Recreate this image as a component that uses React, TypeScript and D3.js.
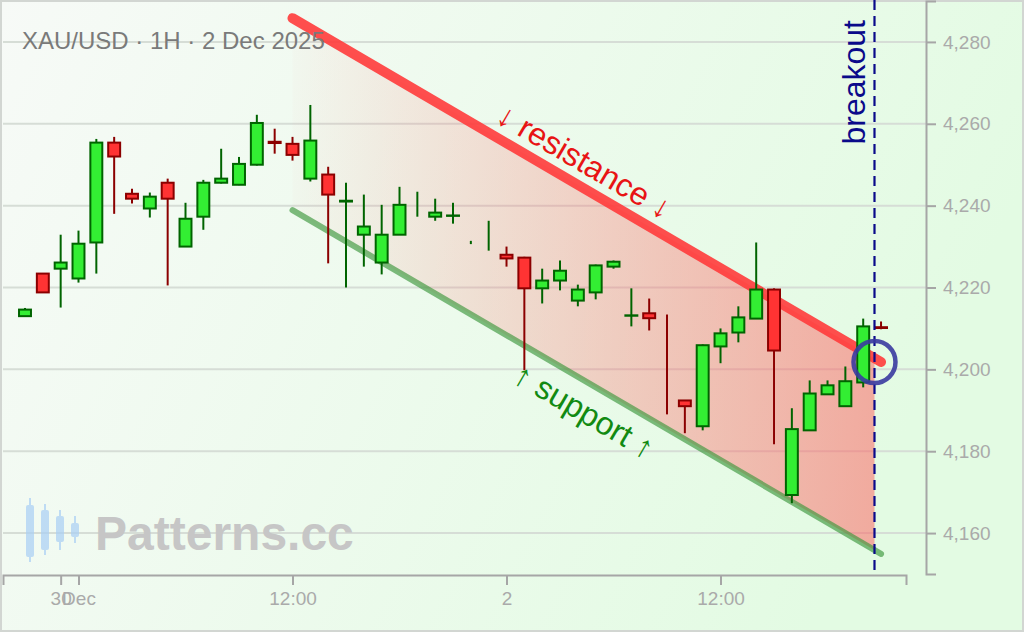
import React, { useEffect, useRef } from "react";
import * as d3 from "d3";

// first candle: 30 Nov 2025 21:00, hourly bars
const START = new Date(2025, 10, 30, 21, 0);

const opens = [
  4213.0, 4223.4, 4224.6, 4222.2, 4231.0, 4255.4, 4242.9, 4239.3, 4245.6, 4230.0,
  4237.3, 4245.6, 4245.1, 4250.0, 4255.6, 4255.1, 4246.6, 4247.6, 4241.0, 4232.9,
  4226.1, 4232.9, 4240.0, 4237.3, 4237.5, 4231.0, 4235.0, 4228.0, 4227.3, 4219.8,
  4221.7, 4216.8, 4218.8, 4225.1, 4213.1, 4213.7, 4213.02, 4192.4, 4186.1, 4205.6,
  4209.0, 4212.4, 4219.5, 4169.3, 4185.1, 4193.9, 4191.0, 4196.8, 4210.3,
];
const highs = [
  4215.0, 4223.5, 4232.9, 4233.9, 4256.3, 4256.8, 4244.1, 4243.2, 4246.6, 4240.7,
  4246.3, 4253.9, 4251.9, 4262.2, 4258.8, 4256.8, 4264.6, 4249.5, 4245.6, 4242.7,
  4240.2, 4244.6, 4243.4, 4241.7, 4240.7, 4231.4, 4236.3, 4230.0, 4227.5, 4224.6,
  4226.6, 4220.7, 4225.6, 4226.6, 4219.8, 4217.3, 4213.4, 4192.4, 4206.1, 4210.0,
  4215.4, 4231.0, 4219.8, 4190.5, 4197.3, 4197.3, 4200.7, 4212.4, 4211.7,
];
const lows = [
  4212.8, 4218.7, 4215.1, 4221.2, 4223.4, 4238.0, 4240.5, 4237.1, 4220.5, 4230.0,
  4234.1, 4245.4, 4245.0, 4249.8, 4252.7, 4251.0, 4245.9, 4225.9, 4220.0, 4225.1,
  4223.2, 4232.9, 4237.3, 4236.3, 4235.6, 4230.6, 4229.0, 4225.1, 4199.8, 4216.1,
  4219.3, 4215.4, 4217.1, 4224.6, 4210.5, 4209.5, 4189.0, 4184.4, 4185.1, 4201.5,
  4206.6, 4212.4, 4181.7, 4167.3, 4185.1, 4193.9, 4191.0, 4195.6, 4209.8,
];
const closes = [
  4214.6, 4218.8, 4226.1, 4230.7, 4255.4, 4252.0, 4241.7, 4242.2, 4241.7, 4236.8,
  4245.6, 4246.6, 4250.2, 4260.2, 4255.3, 4252.4, 4255.9, 4242.7, 4241.2, 4234.9,
  4232.9, 4240.2, 4240.01, 4238.3, 4237.6, 4231.01, 4235.01, 4227.1, 4219.8, 4221.7,
  4224.1, 4219.5, 4225.4, 4226.3, 4213.2, 4212.5, 4213.0, 4191.0, 4205.9, 4208.8,
  4212.7, 4219.5, 4204.6, 4185.4, 4194.1, 4196.1, 4197.1, 4210.5, 4210.1,
];

// channel: hours after START and prices
const channelHours = [15, 48];
const resistancePrices = [4285.8, 4201.8];
const supportPrices = [4238.9, 4154.9];
const breakoutHour = 47.63;
const resistanceLabelHour = 30.7;
const supportLabelHour = 32.1;

const yTicks = [4160, 4180, 4200, 4220, 4240, 4260, 4280];
const xTickHours = [2, 3, 15, 27, 39];
const xTickLabels = ["30", "Dec", "12:00", "2", "12:00"];

const title = "XAU/USD · 1H · 2 Dec 2025";
const resistanceLabel = "↓ resistance ↓";
const supportLabel = "↑ support ↑";
const breakoutLabel = "breakout";
const watermark = "Patterns.cc";

// watermark logo: [wickTop, bodyTop, bodyBottom, wickBottom]
const logoBars = [
  [498, 505, 557, 562],
  [504, 510, 550, 555],
  [510, 516, 542, 550],
  [516, 523, 537, 543],
];

const W = 1024;
const H = 632;
const FONT = "'Liberation Sans', Arial, sans-serif";

const hourAt = (h: number) => d3.timeMinute.offset(START, Math.round(h * 60));
const lerp = (arr: number[], h: number) =>
  d3.interpolateNumber(arr[0], arr[1])((h - channelHours[0]) / (channelHours[1] - channelHours[0]));

const App = () => {
  const svgRef = useRef<SVGSVGElement | null>(null);

  useEffect(() => {
    const svg = d3.select(svgRef.current);
    svg.selectAll("*").remove();

    const x = d3
      .scaleTime()
      .domain([hourAt(-1.234), hourAt(opens.length - 1 + 1.4)])
      .range([3, 906]);
    const y = d3.scaleLinear().domain([4150, 4290]).range([574, 1]);

    const defs = svg.append("defs");
    const bg = defs.append("linearGradient").attr("id", "bg").attr("x1", 0).attr("x2", 1).attr("y1", 0).attr("y2", 0.3);
    bg.append("stop").attr("offset", 0).attr("stop-color", "#f7faf7");
    bg.append("stop").attr("offset", 1).attr("stop-color", "#e3fbe3");

    const fillGrad = defs
      .append("linearGradient")
      .attr("id", "chan")
      .attr("gradientUnits", "userSpaceOnUse")
      .attr("x1", x(hourAt(channelHours[0])))
      .attr("x2", x(hourAt(breakoutHour)))
      .attr("y1", 0)
      .attr("y2", 0);
    fillGrad.append("stop").attr("offset", 0).attr("stop-color", "#ff5a5a").attr("stop-opacity", 0.02);
    fillGrad.append("stop").attr("offset", 1).attr("stop-color", "#ff5a5a").attr("stop-opacity", 0.5);

    svg.append("rect").attr("width", W).attr("height", H).attr("fill", "url(#bg)");
    svg
      .append("rect")
      .attr("x", 1)
      .attr("y", 1)
      .attr("width", W - 2)
      .attr("height", H - 2)
      .attr("fill", "none")
      .attr("stroke", "#d2d6d2")
      .attr("stroke-width", 2);

    // grid
    svg
      .append("g")
      .selectAll("line")
      .data(yTicks)
      .enter()
      .append("line")
      .attr("x1", 3)
      .attr("x2", 926)
      .attr("y1", (d) => y(d))
      .attr("y2", (d) => y(d))
      .attr("stroke", "#d6ddd6")
      .attr("stroke-width", 2);

    // watermark
    const logo = svg.append("g").attr("opacity", 0.7);
    logoBars.forEach((b, i) => {
      const cx = 30 + i * 15;
      logo.append("line").attr("x1", cx).attr("x2", cx).attr("y1", b[0]).attr("y2", b[3]).attr("stroke", "#a9cff5").attr("stroke-width", 2);
      logo.append("rect").attr("x", cx - 4).attr("y", b[1]).attr("width", 8).attr("height", b[2] - b[1]).attr("rx", 2).attr("fill", "#a9cff5");
    });
    svg
      .append("text")
      .attr("x", 95)
      .attr("y", 550)
      .attr("font-family", FONT)
      .attr("font-weight", "bold")
      .attr("font-size", 48)
      .attr("fill", "#c6c6c6")
      .text(watermark);

    // axes
    const xAxis = d3
      .axisBottom(x)
      .tickValues(xTickHours.map(hourAt))
      .tickFormat((_d, i) => xTickLabels[i])
      .tickSize(10)
      .tickPadding(7);
    const gx = svg.append("g").attr("transform", "translate(0,575)").call(xAxis);
    const yAxis = d3.axisRight(y).tickValues(yTicks).tickFormat(d3.format(",")).tickSize(10).tickPadding(7);
    const gy = svg.append("g").attr("transform", "translate(926,0)").call(yAxis);
    [gx, gy].forEach((g) => {
      g.attr("font-family", FONT).attr("font-size", 19);
      g.selectAll("path, line").attr("stroke", "#a6a6a6").attr("stroke-width", 2);
      g.selectAll("text").attr("fill", "#aaaaaa");
    });

    // channel fill
    const chanPts = [channelHours[0], breakoutHour].map((h) => ({
      t: hourAt(h),
      r: lerp(resistancePrices, h),
      s: lerp(supportPrices, h),
    }));
    const area = d3
      .area<{ t: Date; r: number; s: number }>()
      .x((d) => x(d.t))
      .y0((d) => y(d.s))
      .y1((d) => y(d.r));
    svg.append("path").attr("d", area(chanPts) || "").attr("fill", "url(#chan)");

    // channel lines
    const line = d3
      .line<[number, number]>()
      .x((d) => x(hourAt(d[0])))
      .y((d) => y(d[1]));
    const resPts: [number, number][] = channelHours.map((h, i) => [h, resistancePrices[i]]);
    const supPts: [number, number][] = channelHours.map((h, i) => [h, supportPrices[i]]);
    svg
      .append("path")
      .attr("d", line(supPts) || "")
      .attr("fill", "none")
      .attr("stroke", "#3c963c")
      .attr("stroke-opacity", 0.65)
      .attr("stroke-width", 6)
      .attr("stroke-linecap", "round");
    svg
      .append("path")
      .attr("d", line(resPts) || "")
      .attr("fill", "none")
      .attr("stroke", "#ff3b3b")
      .attr("stroke-opacity", 0.9)
      .attr("stroke-width", 10)
      .attr("stroke-linecap", "round");

    // candles
    const step = x(hourAt(1)) - x(hourAt(0));
    const bw = step * 0.67;
    const candles = opens.map((o, i) => ({ t: hourAt(i), o, h: highs[i], l: lows[i], c: closes[i] }));
    const cg = svg.append("g").selectAll("g").data(candles).enter().append("g");
    cg.append("line")
      .attr("x1", (d) => x(d.t))
      .attr("x2", (d) => x(d.t))
      .attr("y1", (d) => y(d.h))
      .attr("y2", (d) => y(d.l))
      .attr("stroke", (d) => (d.c >= d.o ? "#006400" : "#8b0000"))
      .attr("stroke-width", 2);
    cg.filter((d) => Math.abs(y(d.o) - y(d.c)) > 0.1)
      .append("rect")
      .attr("x", (d) => x(d.t) - bw / 2)
      .attr("width", bw)
      .attr("y", (d) => y(Math.max(d.o, d.c)))
      .attr("height", (d) => Math.abs(y(d.o) - y(d.c)))
      .attr("fill", (d) => (d.c >= d.o ? "#33ee33" : "#ff3333"))
      .attr("stroke", (d) => (d.c >= d.o ? "#006400" : "#8b0000"))
      .attr("stroke-width", 2);

    // labels along channel lines
    const [a0, a1] = resPts.map((p) => [x(hourAt(p[0])), y(p[1])]);
    const angle = (Math.atan2(a1[1] - a0[1], a1[0] - a0[0]) * 180) / Math.PI;
    const addLabel = (txt: string, prices: number[], h: number, dy: number, color: string) => {
      svg
        .append("text")
        .attr("transform", `translate(${x(hourAt(h))},${y(lerp(prices, h))}) rotate(${angle})`)
        .attr("dy", dy)
        .attr("text-anchor", "middle")
        .attr("font-family", FONT)
        .attr("font-size", 32)
        .attr("fill", color)
        .text(txt);
    };
    addLabel(resistanceLabel, resistancePrices, resistanceLabelHour, -12.5, "#e81414");
    addLabel(supportLabel, supportPrices, supportLabelHour, 37.5, "#128a12");

    // title
    svg
      .append("text")
      .attr("x", 22)
      .attr("y", 49)
      .attr("font-family", FONT)
      .attr("font-size", 24)
      .attr("fill", "#7a7a7a")
      .text(title);

    // breakout marker
    const bx = x(hourAt(breakoutHour));
    svg
      .append("line")
      .attr("x1", bx)
      .attr("x2", bx)
      .attr("y1", 0)
      .attr("y2", 575)
      .attr("stroke", "#0a0a8a")
      .attr("stroke-width", 2.2)
      .attr("stroke-dasharray", "10,6");
    svg
      .append("text")
      .attr("transform", `translate(${bx - 9},20) rotate(-90)`)
      .attr("text-anchor", "end")
      .attr("font-family", FONT)
      .attr("font-size", 32)
      .attr("fill", "#0a0a8a")
      .text(breakoutLabel);
    svg
      .append("circle")
      .attr("cx", bx)
      .attr("cy", y(resistancePrices[1]))
      .attr("r", 21)
      .attr("fill", "none")
      .attr("stroke", "#3a3aa0")
      .attr("stroke-opacity", 0.9)
      .attr("stroke-width", 4.5);
  }, []);

  return (
    <svg
      ref={svgRef}
      width={W}
      height={H}
      style={{ position: "absolute", left: 0, top: 0, display: "block" }}
    />
  );
};

export default App;
